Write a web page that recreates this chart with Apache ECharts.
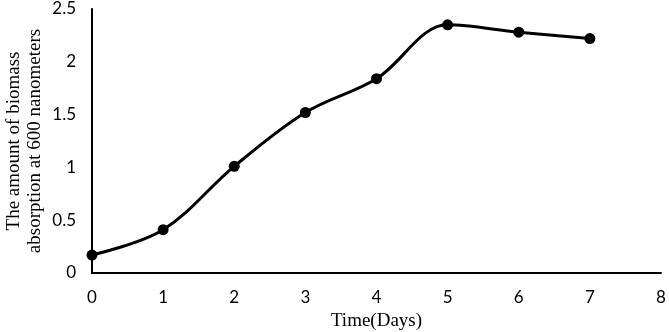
<!DOCTYPE html>
<html>
<head>
<meta charset="utf-8">
<script src="https://cdn.jsdelivr.net/npm/echarts@6/dist/echarts.min.js"></script>
<style>
  html, body { margin: 0; padding: 0; background: #fff; }
  #main { width: 669px; height: 332px; }
</style>
</head>
<body>
<div id="main"></div>
<script>
const days = [0, 1, 2, 3, 4, 5, 6, 7];
const absorption = [0.17, 0.41, 1.01, 1.52, 1.84, 2.35, 2.28, 2.22];

let chartDom = document.getElementById('main');
let myChart = echarts.init(chartDom);
let points = days.map((d, i) => [d, absorption[i]]);

let option = {
    animation: false,
    grid: { left: 92, right: 8, top: 9, bottom: 59, outerBoundsMode: 'none', containLabel: false },
    xAxis: {
        type: 'value',
        min: 0,
        max: 8,
        interval: 1,
        name: 'Time(Days)',
        nameLocation: 'middle',
        nameGap: 39,
        nameMoveOverlap: false,
        nameTextStyle: { fontFamily: 'Liberation Serif', fontSize: 19, color: '#000' },
        axisLine: { lineStyle: { color: '#000', width: 2 } },
        axisTick: { show: false },
        splitLine: { show: false },
        axisLabel: { margin: 16, fontFamily: 'Lato', fontSize: 17, color: '#000' }
    },
    yAxis: {
        type: 'value',
        min: 0,
        max: 2.5,
        interval: 0.5,
        name: 'The amount of biomass\nabsorption at 600 nanometers',
        nameLocation: 'middle',
        nameGap: 46,
        nameMoveOverlap: false,
        nameTextStyle: { fontFamily: 'Liberation Serif', fontSize: 19, color: '#000', lineHeight: 21 },
        axisLine: { show: true, lineStyle: { color: '#000', width: 2 } },
        axisTick: { show: false },
        splitLine: { show: false },
        axisLabel: { margin: 16, fontFamily: 'Lato', fontSize: 17, color: '#000' }
    },
    series: [{
        type: 'line',
        data: points,
        smooth: 0.35,
        symbol: 'circle',
        symbolSize: 11,
        lineStyle: { color: '#000', width: 3 },
        itemStyle: { color: '#000' }
    }]
};
myChart.setOption(option);
</script>
</body>
</html>
